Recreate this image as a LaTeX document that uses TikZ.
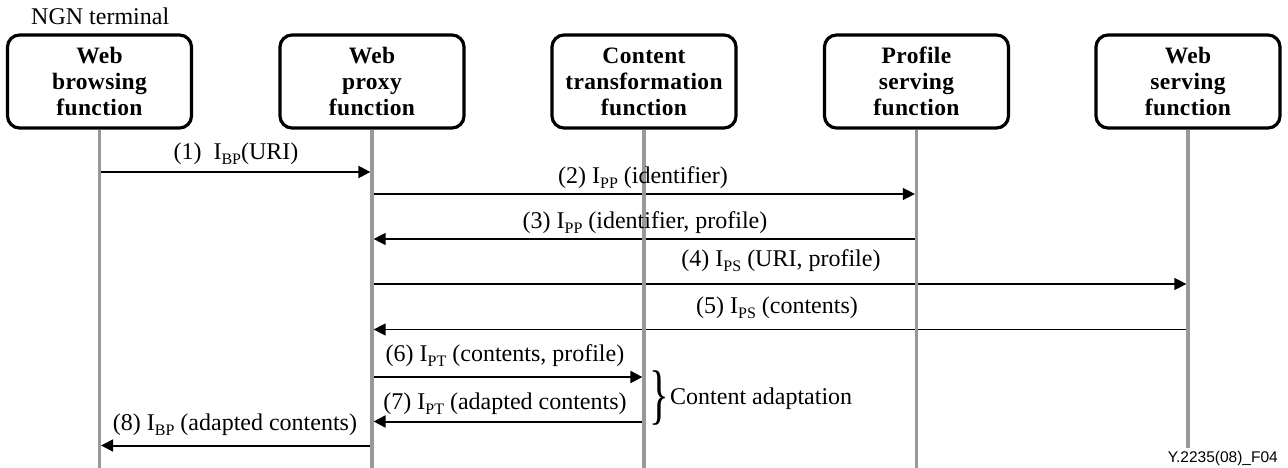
\documentclass[tikz,border=0pt]{standalone}
\usepackage{fontspec}
\setmainfont{Liberation Serif}
\newfontfamily\figsans{Liberation Sans}
\newfontfamily\boxfont{Liberation Serif}[LetterSpace=1.5]
\usetikzlibrary{arrows.meta}

% subscript of an interface name, e.g. I_BP
\newcommand\lowidx[1]{\raisebox{-5pt}{\fontsize{16}{16}\selectfont #1}}

\tikzset{
  entity/.style={draw=black, line width=3.2pt, rounded corners=12pt,
    minimum width=184pt, minimum height=93pt, inner sep=0pt,
    align=center, font=\boxfont\fontsize{23.5}{26}\selectfont\bfseries},
  lifeline/.style={draw={rgb,255:red,153;green,153;blue,153}, line width=3.2pt},
  msgbold/.style={line width=2pt, -{Triangle[length=12pt,width=12pt]}, shorten >=1.6pt},
  msgthin/.style={line width=1.3pt, -{Triangle[length=12pt,width=12pt]}, shorten >=1.6pt},
  plaintext/.style={inner sep=0pt, font=\fontsize{24}{26}\selectfont},
  msglabel/.style={plaintext, anchor=base},
}

\begin{document}
\begin{tikzpicture}[x=1pt, y=-1pt]
  \useasboundingbox (0,0) rectangle (1288,468);

  % functional entities
  \node[entity] (wb) at (99.5,81.5)  {Web\\browsing\\function};
  \node[entity] (wp) at (372,81.5)   {Web\\proxy\\function};
  \node[entity] (ct) at (644,81.5)   {Content\\transformation\\function};
  \node[entity] (ps) at (916.5,81.5) {Profile\\serving\\function};
  \node[entity] (ws) at (1188,81.5)  {Web\\serving\\function};

  \node[plaintext, anchor=base west] (ngn) at (31,25) {NGN terminal};

  % message levels
  \coordinate (m1) at (0,172);
  \coordinate (m2) at (0,194);
  \coordinate (m3) at (0,239);
  \coordinate (m4) at (0,284);
  \coordinate (m5) at (0,329.5);
  \coordinate (m6) at (0,377);
  \coordinate (m7) at (0,421.5);
  \coordinate (m8) at (0,445.5);
  \coordinate (bot) at (0,468);
  \coordinate (botws) at (0,448);

  % messages
  \draw[msgbold] (wb |- m1) -- (wp |- m1);
  \draw[msgthin] (wp |- m2) -- (ps |- m2);
  \draw[msgthin] (ps |- m3) -- (wp |- m3);
  \draw[msgthin] (wp |- m4) -- (ws |- m4);
  \draw[msgthin] (ws |- m5) -- (wp |- m5);
  \draw[msgbold] (wp |- m6) -- (ct |- m6);
  \draw[msgbold] (ct |- m7) -- (wp |- m7);
  \draw[msgbold] (wp |- m8) -- (wb |- m8);

  % lifelines
  \draw[lifeline] (wb.south) -- (wb |- bot);
  \draw[lifeline] (wp.south) -- (wp |- bot);
  \draw[lifeline] (ct.south) -- (ct |- bot);
  \draw[lifeline] (ps.south) -- (ps |- bot);
  \draw[lifeline] (ws.south) -- (ws |- botws);

  % message labels
  \node[msglabel] (l1) at (236,160) {(1)\ \ I\lowidx{BP}(URI)};
  \node[msglabel] (l2) at (643,183) {(2) I\lowidx{PP} (identifier)};
  \node[msglabel] (l3) at (645,228) {(3) I\lowidx{PP} (identifier, profile)};
  \node[msglabel] (l4) at (781,266) {(4) I\lowidx{PS} (URI, profile)};
  \node[msglabel] (l5) at (777,313) {(5) I\lowidx{PS} (contents)};
  \node[msglabel] (l6) at (505,361) {(6) I\lowidx{PT} (contents, profile)};
  \node[msglabel] (l7) at (505,409) {(7) I\lowidx{PT} (adapted contents)};
  \node[msglabel] (l8) at (235,430) {(8) I\lowidx{BP} (adapted contents)};

  % grouping of messages 6 and 7
  \node[inner sep=0pt, anchor=west] (br) at (649,398.5)
    {\scalebox{1.7}[2.75]{\fontsize{24}{24}\selectfont\}}};
  \node[plaintext, anchor=base west] (ca) at (670,404) {Content adaptation};

  % figure reference
  \node[anchor=base east, inner sep=0pt, font=\figsans\fontsize{15.5}{17}\selectfont]
    (ref) at (1278,462) {Y.2235(08)\_F04};
\end{tikzpicture}
\end{document}
